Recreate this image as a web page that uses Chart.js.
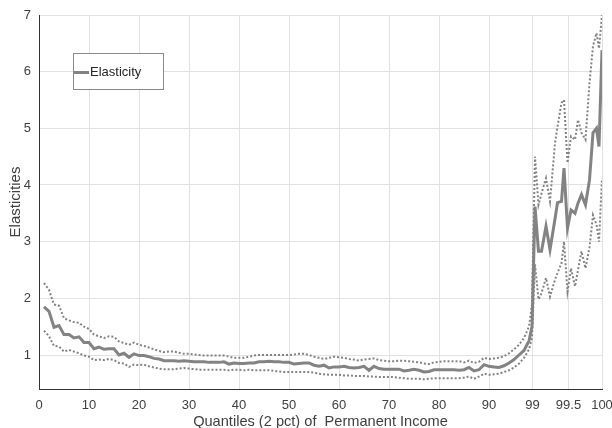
<!DOCTYPE html>
<html>
<head>
<meta charset="utf-8">
<script src="https://cdn.jsdelivr.net/npm/chart.js@4/dist/chart.umd.min.js"></script>
<style>
  html, body { margin: 0; padding: 0; background: #fff; }
  #wrap { width: 612px; height: 428px; }
</style>
</head>
<body>
<div id="wrap"><canvas id="elasChart" width="612" height="428"></canvas></div>
<script>
// positions on the plotting index (0-90 are quantiles, beyond that the top percentile is stretched)
var xPos = [1, 2, 3, 4, 5, 6, 7, 8, 9, 10, 11, 12, 13, 14, 15, 16, 17, 18, 19, 20,
    21, 22, 23, 24, 25, 26, 27, 28, 29, 30, 31, 32, 33, 34, 35, 36, 37, 38, 39, 40,
    41, 42, 43, 44, 45, 46, 47, 48, 49, 50, 51, 52, 53, 54, 55, 56, 57, 58, 59, 60,
    61, 62, 63, 64, 65, 66, 67, 68, 69, 70, 71, 72, 73, 74, 75, 76, 77, 78, 79, 80,
    81, 82, 83, 84, 85, 86, 87, 88, 89, 90, 91, 92, 93, 94, 95, 96, 97, 98,
    98.6, 99.2, 99.9, 100.5, 101.4, 102.2, 103.2, 103.7, 104.5, 105.0, 105.7, 106.4,
    107.2, 107.8, 108.5, 109.3, 110.1, 110.8, 111.5, 112.0, 112.6];

var elasticity = [1.85, 1.77, 1.49, 1.52, 1.36, 1.36, 1.30, 1.32, 1.22, 1.22,
    1.11, 1.14, 1.10, 1.11, 1.11, 1.00, 1.03, 0.96, 1.02, 0.99,
    0.99, 0.97, 0.94, 0.93, 0.90, 0.90, 0.90, 0.89, 0.90, 0.89,
    0.88, 0.88, 0.88, 0.87, 0.87, 0.87, 0.88, 0.84, 0.86, 0.85,
    0.85, 0.86, 0.86, 0.88, 0.88, 0.89, 0.88, 0.88, 0.87, 0.87,
    0.84, 0.85, 0.86, 0.86, 0.82, 0.80, 0.82, 0.77, 0.79, 0.79,
    0.80, 0.78, 0.77, 0.78, 0.80, 0.73, 0.80, 0.76, 0.75, 0.75,
    0.75, 0.75, 0.72, 0.73, 0.75, 0.73, 0.70, 0.71, 0.74, 0.74,
    0.74, 0.74, 0.74, 0.73, 0.74, 0.78, 0.72, 0.74, 0.83, 0.80,
    0.79, 0.78, 0.81, 0.86, 0.92, 1.00, 1.08, 1.25,
    1.50, 3.62, 2.83, 2.83, 3.27, 2.86, 3.40, 3.69, 3.71, 4.30, 3.24, 3.56,
    3.50, 3.68, 3.83, 3.65, 4.09, 4.92, 5.00, 4.68, 6.38];

var upperBand = [2.27, 2.15, 1.89, 1.87, 1.65, 1.61, 1.58, 1.57, 1.50, 1.46,
    1.36, 1.33, 1.30, 1.33, 1.32, 1.24, 1.21, 1.18, 1.22, 1.18,
    1.16, 1.13, 1.10, 1.07, 1.05, 1.06, 1.06, 1.04, 1.02, 1.02,
    1.01, 1.00, 0.99, 0.99, 0.99, 0.99, 0.99, 0.97, 0.95, 0.95,
    0.95, 0.97, 0.99, 1.00, 1.00, 1.00, 1.00, 1.00, 1.00, 1.00,
    1.01, 1.02, 1.02, 1.00, 0.97, 0.95, 0.93, 0.95, 0.97, 0.96,
    0.95, 0.93, 0.92, 0.90, 0.92, 0.93, 0.94, 0.91, 0.90, 0.89,
    0.89, 0.90, 0.90, 0.89, 0.88, 0.87, 0.85, 0.84, 0.87, 0.88,
    0.89, 0.89, 0.89, 0.89, 0.87, 0.90, 0.86, 0.88, 0.95, 0.93,
    0.94, 0.95, 0.98, 1.03, 1.10, 1.18, 1.30, 1.50,
    1.90, 4.50, 3.65, 3.85, 4.12, 3.71, 4.74, 5.03, 5.45, 5.50, 4.39, 4.86,
    4.80, 5.15, 4.92, 4.80, 5.80, 6.45, 6.68, 6.41, 7.00];

var lowerBand = [1.43, 1.33, 1.16, 1.15, 1.06, 1.09, 1.06, 1.03, 0.99, 0.97,
    0.91, 0.92, 0.91, 0.93, 0.91, 0.86, 0.85, 0.79, 0.83, 0.82,
    0.83, 0.80, 0.78, 0.76, 0.75, 0.75, 0.75, 0.76, 0.77, 0.76,
    0.75, 0.74, 0.74, 0.74, 0.74, 0.74, 0.74, 0.73, 0.74, 0.74,
    0.73, 0.74, 0.73, 0.73, 0.73, 0.73, 0.72, 0.71, 0.70, 0.70,
    0.70, 0.70, 0.70, 0.70, 0.69, 0.67, 0.66, 0.65, 0.65, 0.65,
    0.64, 0.64, 0.63, 0.63, 0.63, 0.62, 0.62, 0.61, 0.61, 0.61,
    0.61, 0.60, 0.59, 0.58, 0.58, 0.58, 0.57, 0.58, 0.59, 0.59,
    0.59, 0.59, 0.59, 0.59, 0.60, 0.62, 0.58, 0.62, 0.67, 0.65,
    0.66, 0.67, 0.70, 0.73, 0.78, 0.85, 0.95, 1.10,
    1.30, 2.60, 1.98, 2.09, 2.36, 2.03, 2.33, 2.45, 2.62, 3.00, 2.12, 2.53,
    2.21, 2.50, 2.83, 2.53, 2.90, 3.47, 3.30, 3.00, 4.12];

var xTickPos = [0, 10, 20, 30, 40, 50, 60, 70, 80, 90, 98.7, 105.9, 112.6];
var xTickLabels = ['0', '10', '20', '30', '40', '50', '60', '70', '80', '90', '99', '99.5', '100'];
var yTicks = [1, 2, 3, 4, 5, 6, 7];

var lineGray = '#838383';
var tickFont = { family: 'Liberation Sans', size: 13 };

function makePoints(fncVals) {
    var pts = [];
    for (var i = 0; i < fncVals.length; i++) {
        pts.push({ x: xPos[i], y: fncVals[i] });
    }
    return pts;
}

// little boxed legend inside the plot, like the original figure
var boxLegend = {
    id: 'boxLegend',
    afterDraw: function (chart) {
        var ctx = chart.ctx;
        ctx.save();
        ctx.fillStyle = '#ffffff';
        ctx.fillRect(73.5, 53.5, 90, 36);
        ctx.strokeStyle = '#8a8a8a';
        ctx.lineWidth = 1;
        ctx.strokeRect(73.5, 53.5, 90, 36);
        ctx.strokeStyle = lineGray;
        ctx.lineWidth = 3;
        ctx.beginPath();
        ctx.moveTo(74, 72.5);
        ctx.lineTo(89, 72.5);
        ctx.stroke();
        ctx.fillStyle = '#262626';
        ctx.font = '13px "Liberation Sans"';
        ctx.textBaseline = 'middle';
        ctx.fillText('Elasticity', 90, 72.5);
        ctx.restore();
    }
};

var ctx = document.getElementById('elasChart').getContext('2d');
var elasChart = new Chart(ctx, {
    type: 'line',
    data: {
        datasets: [
            {
                label: 'Upper',
                data: makePoints(upperBand),
                borderColor: lineGray,
                borderWidth: 2,
                borderDash: [2, 2],
                pointRadius: 0,
                tension: 0
            },
            {
                label: 'Lower',
                data: makePoints(lowerBand),
                borderColor: lineGray,
                borderWidth: 2,
                borderDash: [2, 2],
                pointRadius: 0,
                tension: 0
            },
            {
                label: 'Elasticity',
                data: makePoints(elasticity),
                borderColor: lineGray,
                borderWidth: 3,
                pointRadius: 0,
                tension: 0
            }
        ]
    },
    options: {
        responsive: false,
        animation: false,
        layout: { padding: { top: 15, right: 10, left: 0, bottom: 0 } },
        plugins: {
            legend: { display: false },
            tooltip: { enabled: false }
        },
        scales: {
            x: {
                type: 'linear',
                min: 0,
                max: 112.6,
                afterBuildTicks: function (axis) {
                    axis.ticks = xTickPos.map(function (v) { return { value: v }; });
                },
                afterFit: function (axis) {
                    axis.height = 39;
                    axis.paddingLeft = 0;
                    axis.paddingRight = 0;
                },
                ticks: {
                    autoSkip: false,
                    maxRotation: 0,
                    padding: 9,
                    color: '#404040',
                    font: tickFont,
                    callback: function (val, idx) { return xTickLabels[idx]; }
                },
                grid: { color: '#e2e2e2', drawTicks: false },
                border: { color: '#333333', width: 1 },
                title: {
                    display: true,
                    text: 'Quantiles (2 pct) of  Permanent Income',
                    color: '#404040',
                    font: { family: 'Liberation Sans', size: 14.6 },
                    padding: { top: 6, bottom: -3 }
                }
            },
            y: {
                type: 'linear',
                min: 0.4,
                max: 7,
                afterBuildTicks: function (axis) {
                    axis.ticks = yTicks.map(function (v) { return { value: v }; });
                },
                afterFit: function (axis) {
                    axis.width = 39;
                    axis.paddingTop = 0;
                    axis.paddingBottom = 0;
                },
                ticks: {
                    padding: 8,
                    color: '#404040',
                    font: tickFont
                },
                grid: { color: '#e2e2e2', drawTicks: false },
                border: { color: '#333333', width: 1 },
                title: {
                    display: true,
                    text: 'Elasticities',
                    color: '#404040',
                    font: { family: 'Liberation Sans', size: 15 },
                    padding: { top: 7, bottom: 0 }
                }
            }
        }
    },
    plugins: [boxLegend]
});
</script>
</body>
</html>
